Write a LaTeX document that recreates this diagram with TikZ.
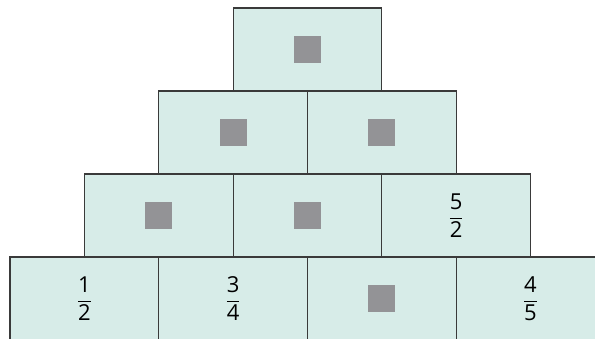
\documentclass[tikz,border=0pt]{standalone}
\usepackage{amsmath}
\usepackage{fontspec}
\setmainfont{Open Sans}
\usepackage{tikz}
\usetikzlibrary{positioning}
\definecolor{pTeal}{HTML}{D7ECE8}
\definecolor{pGrey}{HTML}{939396}
\definecolor{pBorder}{HTML}{3A3A3A}
\newcommand{\cellfrac}[2]{\(\dfrac{\text{#1}}{\text{#2}}\)}

\begin{document}
\begin{tikzpicture}[x=1pt, y=-1pt,
    cell/.style={draw=pBorder, fill=pTeal, line width=1.1pt, minimum width=148.7pt,
      minimum height=83pt, inner sep=0pt, font=\fontsize{22}{26}\selectfont},
    blank/.style={fill=pGrey, minimum size=27pt, inner sep=0pt}]
    \useasboundingbox (0,0) rectangle (595,338);
    \clip (0,0) rectangle (595,338);
    % top
    \node[cell] (top) at (307.4,49.5) {};
    % second row
    \node[cell] (r2a) at (233.05,132.5) {};
    \node[cell] (r2b) at (381.75,132.5) {};
    % third row
    \node[cell] (r3a) at (158.7,215.5) {};
    \node[cell] (r3b) at (307.4,215.5) {};
    \node[cell] (r3c) at (456.1,215.5) {\cellfrac{5}{2}};
    % bottom row
    \node[cell] (r4a) at (84.35,298.5) {\cellfrac{1}{2}};
    \node[cell] (r4b) at (233.05,298.5) {\cellfrac{3}{4}};
    \node[cell] (r4c) at (381.75,298.5) {};
    \node[cell] (r4d) at (530.45,298.5) {\cellfrac{4}{5}};
    % hidden values
    \node[blank] (q1) at (top) {};
    \node[blank] (q2) at (r2a) {};
    \node[blank] (q3) at (r2b) {};
    \node[blank] (q4) at (r3a) {};
    \node[blank] (q5) at (r3b) {};
    \node[blank] (q6) at (r4c) {};
  \end{tikzpicture}
\end{document}
